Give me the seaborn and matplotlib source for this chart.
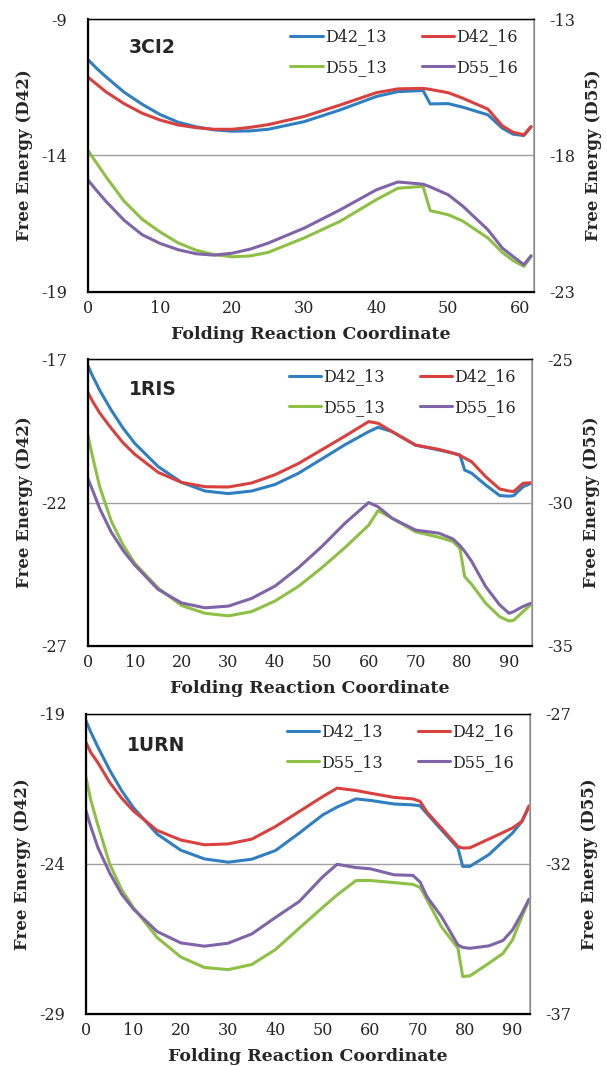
import matplotlib
matplotlib.use("Agg")
import matplotlib.pyplot as plt
import seaborn as sns

# --- panel 1: 3CI2 ---
x_3ci2 = [0, 1.25, 2.5, 5, 7.5, 10, 12.5, 15, 17.5, 20, 22.5, 25, 30, 35, 40, 43, 46.5, 47.5, 50, 52, 55.5, 57.5,
          59, 60.5, 61.5]
d42_13_3ci2 = [-10.49, -10.82, -11.12, -11.68, -12.12, -12.50, -12.78, -12.95, -13.06, -13.11, -13.10, -13.04, -12.76,
               -12.33, -11.84, -11.66, -11.62, -12.11, -12.10, -12.23, -12.51, -13.00, -13.22, -13.27, -12.95]
d42_16_3ci2 = [-11.13, -11.40, -11.67, -12.10, -12.45, -12.70, -12.88, -12.98, -13.04, -13.04, -12.97, -12.87, -12.57,
               -12.15, -11.70, -11.56, -11.54, -11.58, -11.70, -11.90, -12.30, -12.91, -13.15, -13.24, -12.94]
d55_13_3ci2 = [-17.82, -18.30, -18.78, -19.67, -20.33, -20.80, -21.20, -21.47, -21.63, -21.71, -21.68, -21.55, -21.02,
               -20.41, -19.62, -19.20, -19.13, -20.02, -20.17, -20.40, -21.02, -21.55, -21.85, -22.06, -21.70]
d55_16_3ci2 = [-18.90, -19.30, -19.68, -20.37, -20.90, -21.22, -21.45, -21.60, -21.65, -21.58, -21.43, -21.21, -20.66,
               -19.99, -19.26, -18.97, -19.05, -19.15, -19.44, -19.85, -20.72, -21.39, -21.70, -22.00, -21.67]

# --- panel 2: 1RIS ---
x_1ris = [0, 1, 2.5, 5, 7.5, 10, 15, 20, 25, 30, 35, 40, 45, 50, 55, 60, 62, 65, 70, 75, 78, 79.5, 80.5, 82, 85, 88,
          90, 91, 93, 95]
d42_13_1ris = [-17.24, -17.60, -18.09, -18.79, -19.41, -19.94, -20.75, -21.30, -21.60, -21.69, -21.60, -21.37, -20.98,
               -20.48, -19.98, -19.53, -19.38, -19.53, -20.00, -20.17, -20.28, -20.34, -20.87, -20.98, -21.39, -21.76,
               -21.78, -21.76, -21.45, -21.31]
d42_16_1ris = [-18.17, -18.48, -18.88, -19.42, -19.92, -20.32, -20.95, -21.30, -21.45, -21.46, -21.32, -21.03, -20.64,
               -20.16, -19.68, -19.18, -19.24, -19.53, -20.00, -20.15, -20.28, -20.36, -20.45, -20.58, -21.10, -21.53,
               -21.60, -21.62, -21.33, -21.31]
d55_13_1ris = [-27.67, -28.42, -29.45, -30.66, -31.48, -32.12, -32.98, -33.59, -33.86, -33.95, -33.80, -33.43, -32.92,
               -32.27, -31.56, -30.79, -30.28, -30.55, -31.02, -31.21, -31.36, -31.60, -32.58, -32.85, -33.51, -33.98,
               -34.13, -34.10, -33.80, -33.51]
d55_16_1ris = [-29.18, -29.58, -30.21, -31.04, -31.67, -32.18, -33.03, -33.50, -33.67, -33.61, -33.34, -32.91, -32.27,
               -31.53, -30.71, -30.00, -30.15, -30.55, -30.96, -31.07, -31.27, -31.50, -31.70, -32.05, -32.93, -33.57,
               -33.86, -33.80, -33.62, -33.49]

# --- panel 3: 1URN ---
x_1urn = [0, 1, 2.5, 5, 7.5, 10, 15, 20, 25, 30, 35, 40, 45, 50, 53, 57, 60, 65, 69, 70.5, 72, 75, 78.5, 79.5, 81, 85,
          88, 90, 92, 93.5]
d42_13_1urn = [-19.23, -19.60, -20.10, -20.87, -21.55, -22.12, -23.00, -23.54, -23.83, -23.94, -23.84, -23.55, -22.97,
               -22.36, -22.10, -21.83, -21.88, -22.00, -22.03, -22.06, -22.33, -22.86, -23.47, -24.08, -24.08, -23.69,
               -23.25, -22.97, -22.58, -22.08]
d42_16_1urn = [-19.95, -20.28, -20.62, -21.28, -21.80, -22.23, -22.88, -23.20, -23.36, -23.33, -23.17, -22.75, -22.25,
               -21.75, -21.47, -21.55, -21.64, -21.78, -21.83, -21.91, -22.28, -22.80, -23.42, -23.47, -23.46, -23.17,
               -22.95, -22.80, -22.58, -22.06]
d55_13_1urn = [-29.12, -29.86, -30.70, -32.00, -32.85, -33.45, -34.45, -35.10, -35.45, -35.52, -35.35, -34.85, -34.14,
               -33.44, -33.03, -32.55, -32.55, -32.62, -32.68, -32.78, -33.20, -34.09, -34.81, -35.75, -35.73, -35.31,
               -34.98, -34.53, -33.75, -33.20]
d55_16_1urn = [-30.23, -30.75, -31.45, -32.30, -33.00, -33.50, -34.25, -34.63, -34.74, -34.64, -34.33, -33.78, -33.25,
               -32.42, -32.01, -32.12, -32.16, -32.36, -32.38, -32.60, -33.10, -33.75, -34.70, -34.78, -34.81, -34.73,
               -34.55, -34.20, -33.64, -33.17]

names = ["3CI2", "1RIS", "1URN"]
xs = [x_3ci2, x_1ris, x_1urn]
d42_13 = [d42_13_3ci2, d42_13_1ris, d42_13_1urn]
d42_16 = [d42_16_3ci2, d42_16_1ris, d42_16_1urn]
d55_13 = [d55_13_3ci2, d55_13_1ris, d55_13_1urn]
d55_16 = [d55_16_3ci2, d55_16_1ris, d55_16_1urn]
left_ticks = [[-19, -14, -9], [-27, -22, -17], [-29, -24, -19]]
right_ticks = [[-23, -18, -13], [-35, -30, -25], [-37, -32, -27]]
xmax = [61.9, 94.9, 93.7]

colors = {"D42_13": "#2F7FC1", "D42_16": "#D8413E", "D55_13": "#8DC044", "D55_16": "#8064A8"}

sns.set_style("white")
plt.rcParams["font.family"] = ["DejaVu Serif"]
plt.rcParams["axes.unicode_minus"] = False
plt.rcParams["lines.solid_joinstyle"] = "round"
plt.rcParams["lines.solid_capstyle"] = "round"

W, H = 607, 1066
fig = plt.figure(figsize=(W / 100, H / 100), dpi=100)

# axes boxes in pixels: left, right, top, bottom
boxes = [(88, 534, 19, 292), (88, 532, 359, 646), (86, 530, 714, 1014)]

for i, (l, r, t, b) in enumerate(boxes):
    ax = fig.add_axes([l / W, 1 - b / H, (r - l) / W, (b - t) / H])
    ax2 = ax.twinx()

    sns.lineplot(x=xs[i], y=d42_13[i], ax=ax, color=colors["D42_13"], lw=2.2, label="D42_13")
    sns.lineplot(x=xs[i], y=d42_16[i], ax=ax, color=colors["D42_16"], lw=2.2, label="D42_16")
    sns.lineplot(x=xs[i], y=d55_13[i], ax=ax2, color=colors["D55_13"], lw=2.2, label="D55_13")
    sns.lineplot(x=xs[i], y=d55_16[i], ax=ax2, color=colors["D55_16"], lw=2.2, label="D55_16")

    h1, l1 = ax.get_legend_handles_labels()
    h2, l2 = ax2.get_legend_handles_labels()
    ax.get_legend().remove()
    ax2.get_legend().remove()
    # column-first fill: D42 row on top, D55 row below
    handles = [h1[0], h2[0], h1[1], h2[1]]
    labels = [l1[0], l2[0], l1[1], l2[1]]
    ax2.legend(handles, labels, ncol=2, loc="upper right", bbox_to_anchor=(0.978, 0.99), frameon=False,
               fontsize=11.5, handlelength=2.05, handletextpad=0.1, columnspacing=2.2, labelspacing=0.85,
               borderaxespad=0)

    ax.set_xlim(0, xmax[i])
    ax.set_xticks(range(0, int(xmax[i]) + 1, 10))
    ax.set_ylim(left_ticks[i][0], left_ticks[i][-1])
    ax.set_yticks(left_ticks[i])
    ax2.set_ylim(right_ticks[i][0], right_ticks[i][-1])
    ax2.set_yticks(right_ticks[i])

    ax.grid(axis="y", color="#A0A0A0", lw=1)
    ax.grid(axis="x", visible=False)
    ax2.grid(False)

    ax.tick_params(axis="x", direction="in", length=4, width=1, color="black", labelsize=11.5, pad=6)
    ax.tick_params(axis="y", length=0, labelsize=11.5, pad=15)
    ax2.tick_params(axis="y", length=0, labelsize=11.5, pad=11)

    for sp in ["left", "bottom"]:
        ax2.spines[sp].set_color("black")
        ax2.spines[sp].set_linewidth(1.6)
    ax2.spines["top"].set_color("black")
    ax2.spines["top"].set_linewidth(1.0)
    ax2.spines["right"].set_color("#A0A0A0")
    ax2.spines["right"].set_linewidth(1.2)

    ax.set_xlabel("Folding Reaction Coordinate", fontsize=12.5, fontweight="bold", labelpad=6)
    ax.set_ylabel("Free Energy (D42)", fontsize=12, fontweight="bold", labelpad=6)
    ax2.set_ylabel("Free Energy (D55)", fontsize=12, fontweight="bold", labelpad=7)

    ax.text(0.092, 0.895, names[i], transform=ax.transAxes, fontsize=13.5, fontweight="bold",
            family="DejaVu Sans", va="center", ha="left")

fig.savefig("out.png", dpi=100)
